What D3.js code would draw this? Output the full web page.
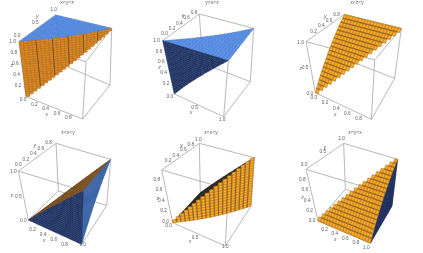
<!DOCTYPE html>
<html>
<head>
<meta charset="utf-8">
<script src="https://cdnjs.cloudflare.com/ajax/libs/d3/7.8.5/d3.min.js"></script>
<style>
  html, body { margin: 0; padding: 0; background: #fff; }
  svg { display: block; }
  text { font-family: "Liberation Sans", sans-serif; fill: #5e5e5e; }
</style>
</head>
<body>
<svg id="chart" width="423" height="253"></svg>
<script>
// plot labels, left to right, top row first
const titles = ["x<y<z", "y<x<z", "x<z<y", "z<x<y", "z<x<y", "z<y<x"];

// tick labels on each axis
const xTicks = [[0, .2, .4, .6, .8], [0, .5, 1], [0, .2, .4, .6, .8], [.2, .4, .6, .8, 1], [0, .5, 1], [.2, .4, .6, .8, 1]];
const yTicks = [[0, .5, 1], [0, .2, .4, .6, .8], [.2, .4, .6, .8], [0, .2, .4, .6, .8], [.2, .4, .6, .8, 1], [0, .5, 1]];
const zTicks = [[.2, .4, .6, .8, 1], [.2, .4, .6, .8, 1], [0, .5, 1], [0, .5, 1], [0, .2, .4, .6, .8], [0, .2, .4, .6, .8]];

// faces of each region in data space: right angle corner, then the two leg ends
const faces1 = [[[0, 1, 1], [0, 0, 1], [1, 1, 1]], [[0, 0, 1], [1, 1, 1], [0, 0, 0]]];
const faces2 = [[[1, 0, 1], [0, 0, 1], [1, 1, 1]], [[0, 0, 1], [1, 0, 1], [0, 0, 0]]];
const faces3 = [[[0, 1, 1], [0, 0, 0], [1, 1, 1]]];
const faces4 = [[[1, 0, 1], [0, 0, 0], [1, 1, 1]], [[1, 0, 1], [1, 0, 0], [1, 1, 1]], [[1, 0, 0], [0, 0, 0], [1, 0, 1]]];
const faces5 = [[[0, 1, 0], [0, 0, 0], [1, 1, 1]], [[1, 1, 0], [0, 0, 0], [1, 1, 1]]];
const faces6 = [[[1, 1, 0], [1, 0, 0], [1, 1, 1]], [[1, 0, 0], [1, 1, 1], [0, 0, 0]]];
const allFaces = [faces1, faces2, faces3, faces4, faces5, faces6];

// look of the faces
const looks = {
  sky:    {fill: "#5a93ec", line: "#4273c4", heavy: "#4273c4", n: 20, every: 1, width: 0.3},
  navy:   {fill: "#22396b", line: "#1b2d57", heavy: "#1b2d57", n: 26, every: 1, width: 0.3},
  steel:  {fill: "#4272be", line: "#335a9a", heavy: "#335a9a", n: 26, every: 1, width: 0.3},
  rust:   {fill: "#e0861a", line: "#a3681c", heavy: "#57462c", n: 24, every: 4, width: 0.7, stepped: true},
  amber:  {fill: "#ee991e", glow: "#ffb92f", line: "#a9721f", heavy: "#5c4828", n: 19, every: 1, width: 0.55, stepped: true},
  umber:  {fill: "#8c5b27", line: "#704b20", heavy: "#704b20", n: 26, every: 1, width: 0.3},
  soot:   {fill: "#3b3631", line: "#2c2825", heavy: "#2c2825", n: 26, every: 1, width: 0.3}
};
const faceLooks = [["sky", "rust"], ["sky", "navy"], ["amber"], ["umber", "steel", "navy"], ["soot", "amber"], ["navy", "amber"]];

// box corners on the page, keyed by xyz
const boxes = [
  {dx: 0, dy: 0, tx: 67, ty: 3, "000": [78, 290], "100": [248, 357], "010": [190, 195], "110": [330, 255], "001": [57, 125], "101": [258, 185], "011": [167, 45], "111": [335, 85]},
  {dx: 141, dy: 0, tx: 212, ty: 3, "000": [100, 282], "100": [248, 350], "010": [185, 190], "110": [328, 245], "001": [65, 122], "101": [262, 182], "011": [175, 42], "111": [338, 85]},
  {dx: 282, dy: 0, tx: 357, ty: 3, "000": [100, 278], "100": [268, 358], "010": [197, 180], "110": [338, 235], "001": [72, 125], "101": [278, 180], "011": [187, 43], "111": [358, 85]},
  {dx: 0, dy: 126, tx: 68, ty: 133, "000": [85, 282], "100": [245, 355], "010": [175, 195], "110": [320, 238], "001": [55, 135], "101": [250, 195], "011": [168, 52], "111": [332, 100]},
  {dx: 141, dy: 126, tx: 211, ty: 133, "000": [95, 290], "100": [253, 360], "010": [178, 200], "110": [330, 240], "001": [62, 132], "101": [262, 190], "011": [175, 52], "111": [340, 95]},
  {dx: 282, dy: 126, tx: 355, ty: 133, "000": [108, 285], "100": [265, 352], "010": [190, 190], "110": [330, 240], "001": [72, 130], "101": [270, 190], "011": [185, 52], "111": [347, 100]}
];

// label offsets from the axis edge, px: x ticks, y ticks, z ticks, then the axis letters
// xLast is for the x tick sitting right on the corner
const labelOffsets = [
  {x: [-3, 3.5], y: [-2, -5.5], z: [-6.5, 0], xt: [-7.7, 7.3], yt: [0, -11.7], zt: [-10.7, -3]},
  {x: [-4.5, 2.5], xLast: [-1.6, 2.7], y: [2, -6.5], z: [-6, 0], xt: [-8, 7], yt: [2, -12], zt: [-9, 0]},
  {x: [-1.5, 5], y: [0, -4.7], z: [-5.5, 1], xt: [-8, 9], yt: [0, -11], zt: [-10, 2]},
  {x: [-6.5, 5], xLast: [1, 0], y: [0, -6], z: [-5, 1], xt: [-11, 9], yt: [-2.5, -11], zt: [-11.5, 0]},
  {x: [-4, 3.5], xLast: [0, 1], y: [-1, -4], z: [-7, -1], xt: [-9, 7], yt: [1, -11], zt: [-9.5, 2]},
  {x: [-4, 4], y: [-2, -5], z: [-6, 0], xt: [-9, 8], yt: [0, -9], zt: [-9.5, 3]}
];

const svg = d3.select("#chart");
const unit = d3.scaleLinear().domain([0, 1]);

// the reference is a scaled down screenshot, a touch of blur gets the same softness
svg.append("defs").append("filter").attr("id", "soft")
  .attr("x", 0).attr("y", 0).attr("width", 1).attr("height", 1)
  .append("feGaussianBlur").attr("stdDeviation", 0.3);
const root = svg.append("g").attr("filter", "url(#soft)");
root.append("rect").attr("width", 423).attr("height", 253).attr("fill", "#fff");

// trilinear map from the unit cube to the corners of the box (zoom-measured, so /3)
function projector(box) {
  const c = k => [box[k][0] / 3 + box.dx, box[k][1] / 3 + box.dy];
  const mix = (a, b, t) => {
    const s = unit.copy().range([0, 1])(t);
    return [a[0] + (b[0] - a[0]) * s, a[1] + (b[1] - a[1]) * s];
  };
  return (x, y, z) => {
    const low = mix(mix(c("000"), c("100"), x), mix(c("010"), c("110"), x), y);
    const high = mix(mix(c("001"), c("101"), x), mix(c("011"), c("111"), x), y);
    return mix(low, high, z);
  };
}

function drawFace(g, project, face, look) {
  const [r, p, q] = face;
  const at = (s, t) => project(
    r[0] + s * (p[0] - r[0]) + t * (q[0] - r[0]),
    r[1] + s * (p[1] - r[1]) + t * (q[1] - r[1]),
    r[2] + s * (p[2] - r[2]) + t * (q[2] - r[2]));
  const n = look.n;
  const cells = [];
  for (let i = 0; i < n; i++) for (let j = 0; j < n - i; j++) cells.push([i, j]);
  const cellPath = ([i, j]) => {
    const pts = [at(i / n, j / n), at((i + 1) / n, j / n), at((i + 1) / n, (j + 1) / n), at(i / n, (j + 1) / n)];
    if (!look.stepped && i + j == n - 1) pts.splice(2, 1);
    return d3.line()(pts) + "Z";
  };
  g.append("g").selectAll("path").data(cells).join("path")
    .attr("d", cellPath)
    .attr("fill", look.fill)
    .attr("stroke", look.line)
    .attr("stroke-width", look.stepped ? 0.45 : 0.3);
  // bright middle of the cell, gives the bumpy look of the orange faces
  if (look.glow) {
    const inset = ([i, j]) => d3.line()([
      at((i + .3) / n, (j + .3) / n), at((i + .7) / n, (j + .3) / n),
      at((i + .7) / n, (j + .7) / n), at((i + .3) / n, (j + .7) / n)]) + "Z";
    g.append("g").selectAll("path").data(cells).join("path")
      .attr("d", inset)
      .attr("fill", look.glow);
  }
  // the heavier mesh lines running along the q leg
  const steps = d3.range(look.every, n, look.every);
  g.append("g").selectAll("path").data(steps).join("path")
    .attr("d", i => d3.line()([at(i / n, 0), at(i / n, 1 - i / n)]))
    .attr("fill", "none")
    .attr("stroke", look.heavy)
    .attr("stroke-width", look.width);
}

const boxEdges = [["000", "100"], ["010", "110"], ["001", "101"], ["011", "111"],
  ["000", "010"], ["100", "110"], ["001", "011"], ["101", "111"],
  ["000", "001"], ["100", "101"], ["010", "011"], ["110", "111"]];

boxes.forEach((box, k) => {
  const project = projector(box);
  const g = root.append("g");
  const corner = key => project(+key[0], +key[1], +key[2]);

  g.append("g").selectAll("line").data(boxEdges).join("line")
    .attr("x1", d => corner(d[0])[0]).attr("y1", d => corner(d[0])[1])
    .attr("x2", d => corner(d[1])[0]).attr("y2", d => corner(d[1])[1])
    .attr("stroke", "#a6a6a6")
    .attr("stroke-width", 0.8);

  allFaces[k].forEach((face, i) => drawFace(g, project, face, looks[faceLooks[k][i]]));

  const off = labelOffsets[k];
  const tickLabels = (ticks, point, o, last) => g.append("g").selectAll("text").data(ticks).join("text")
    .attr("x", d => point(d)[0] + (d == 1 && last ? last : o)[0])
    .attr("y", d => point(d)[1] + (d == 1 && last ? last : o)[1])
    .attr("text-anchor", "middle")
    .attr("dominant-baseline", "middle")
    .attr("font-size", 4.8)
    .text(d3.format(".1f"));
  const xEdge = t => project(t, 0, 0), yEdge = t => project(0, t, 1), zEdge = t => project(0, 0, t);
  tickLabels(xTicks[k], xEdge, off.x, off.xLast);
  tickLabels(yTicks[k], yEdge, off.y);
  tickLabels(zTicks[k], zEdge, off.z);

  [["x", xEdge, off.xt], ["y", yEdge, off.yt], ["z", zEdge, off.zt]].forEach(([name, edge, o]) => {
    g.append("text")
      .attr("x", edge(.5)[0] + o[0])
      .attr("y", edge(.5)[1] + o[1])
      .attr("text-anchor", "middle")
      .attr("dominant-baseline", "middle")
      .attr("font-size", 5)
      .attr("font-style", "italic")
      .text(name);
  });

  g.append("text")
    .attr("x", box.tx)
    .attr("y", box.ty)
    .attr("text-anchor", "middle")
    .attr("dominant-baseline", "middle")
    .attr("font-size", 5)
    .text(titles[k]);
});
</script>
</body>
</html>
